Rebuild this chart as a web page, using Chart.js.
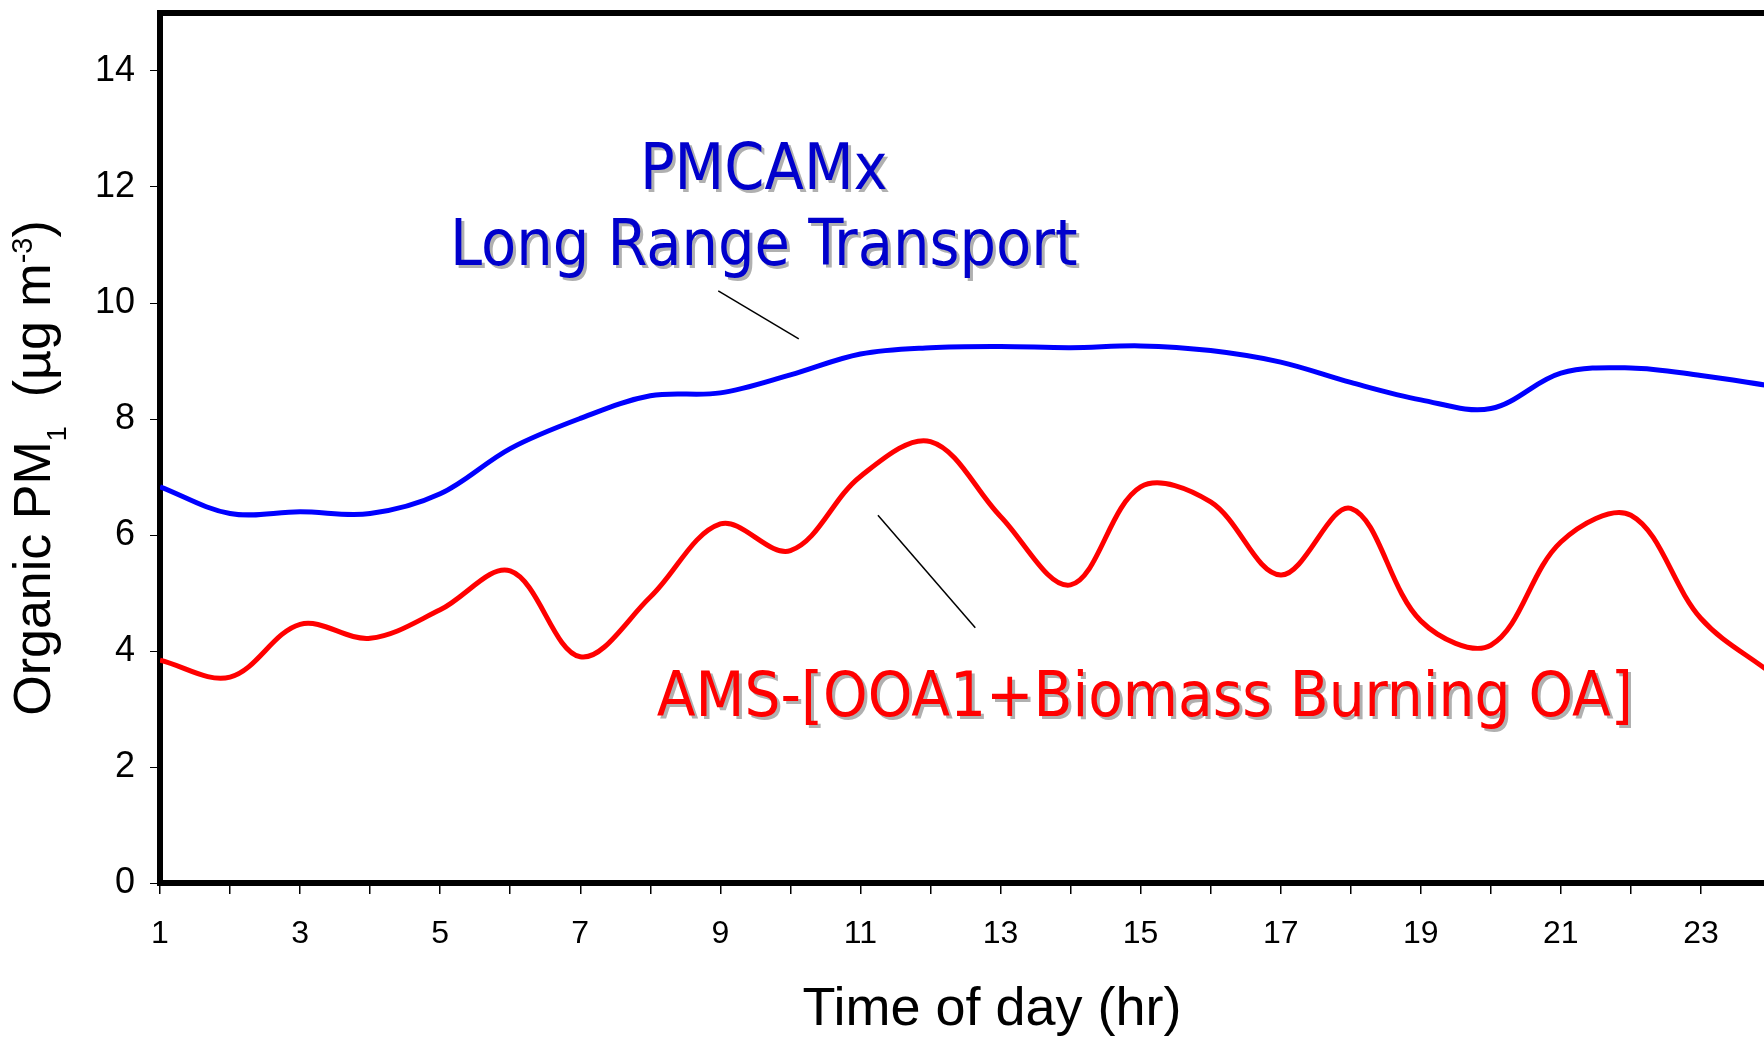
<!DOCTYPE html>
<html>
<head>
<meta charset="utf-8">
<title>Organic PM1 diurnal profile</title>
<script src="https://cdn.jsdelivr.net/npm/chart.js@4.4.1/dist/chart.umd.min.js"></script>
<style>
    html, body { margin: 0; padding: 0; overflow: hidden; background: #fff; }
    #wrap { position: relative; width: 1776px; height: 1037px; }
</style>
</head>
<body>
<div id="wrap"><canvas id="pmChart" width="1776" height="1037"></canvas></div>
<script>
// ===============================
// DATA
// ===============================
const hours = [1, 2, 3, 4, 5, 6, 7, 8, 9, 10, 11, 12, 13, 14, 15, 16, 17, 18, 19, 20, 21, 22, 23, 24];

// PMCAMx long range transport (ug m-3)
const pmcamx = [6.83, 6.37, 6.40, 6.37, 6.71, 7.49, 8.01, 8.40, 8.45, 8.76, 9.12, 9.23,
                9.25, 9.23, 9.26, 9.18, 8.98, 8.63, 8.33, 8.18, 8.79, 8.88, 8.75, 8.57];

// AMS - [OOA1 + biomass burning OA] (ug m-3)
const amsOA = [3.84, 3.55, 4.46, 4.22, 4.71, 5.38, 3.90, 4.93, 6.19, 5.73, 7.01, 7.61,
               6.32, 5.14, 6.83, 6.57, 5.31, 6.46, 4.52, 4.10, 5.88, 6.34, 4.56, 3.62];

const xTickLabels = [1, 3, 5, 7, 9, 11, 13, 15, 17, 19, 21, 23];
const yTickLabels = [0, 2, 4, 6, 8, 10, 12, 14];

// labels on the plot, placed in data units (hour, value)
const notes = [
    { text: "PMCAMx", x: 9.62, y: 11.97, color: "#0000cc", size: 64 },
    { text: "Long Range Transport", x: 9.62, y: 10.66, color: "#0000cc", size: 64 },
    { text: "AMS-[OOA1+Biomass Burning OA]", x: 15.06, y: 2.88, color: "#ff0000", size: 63 }
];
const leaders = [
    { x1: 8.97, y1: 10.21, x2: 10.12, y2: 9.38 },
    { x1: 11.25, y1: 6.34, x2: 12.64, y2: 4.40 }
];

const TICK_FONT = "'Liberation Sans', Arial, sans-serif";
const NOTE_FONT = "'DejaVu Sans Condensed', 'DejaVu Sans', sans-serif";

// Utilities: pair hours with values
function toPoints(values) {
    return hours.map((h, i) => ({ x: h, y: values[i] }));
}

// Extra drawing: top frame, axis titles, notes
const decorations = {
    id: "decorations",
    afterDraw(chart) {
        const { ctx, chartArea, scales } = chart;
        const xs = scales.x, ys = scales.y;

        ctx.save();
        // top frame line
        ctx.strokeStyle = "#000";
        ctx.lineWidth = 6;
        ctx.beginPath();
        ctx.moveTo(chartArea.left - 3, chartArea.top);
        ctx.lineTo(chartArea.right + 3, chartArea.top);
        ctx.stroke();

        // x title
        ctx.fillStyle = "#000";
        ctx.font = "54px " + TICK_FONT;
        ctx.textAlign = "center";
        ctx.textBaseline = "alphabetic";
        ctx.fillText("Time of day (hr)", 992, 1025);

        // y title with sub / superscripts
        const parts = [
            { t: "Organic PM", size: 52, shift: 0 },
            { t: "1", size: 27, shift: 16 },
            { t: "  (\u00b5g m", size: 52, shift: 0 },
            { t: "-3", size: 29, shift: -18 },
            { t: ")", size: 52, shift: 0 }
        ];
        let total = 0;
        parts.forEach(p => {
            ctx.font = p.size + "px " + TICK_FONT;
            p.w = ctx.measureText(p.t).width;
            total += p.w;
        });
        ctx.translate(50, 468);
        ctx.rotate(-Math.PI / 2);
        ctx.textAlign = "left";
        let pos = -total / 2;
        parts.forEach(p => {
            ctx.font = p.size + "px " + TICK_FONT;
            ctx.fillText(p.t, pos, p.shift);
            pos += p.w;
        });
        ctx.restore();

        // leader lines
        ctx.save();
        ctx.strokeStyle = "#000";
        ctx.lineWidth = 1.5;
        leaders.forEach(l => {
            ctx.beginPath();
            ctx.moveTo(xs.getPixelForValue(l.x1), ys.getPixelForValue(l.y1));
            ctx.lineTo(xs.getPixelForValue(l.x2), ys.getPixelForValue(l.y2));
            ctx.stroke();
        });

        // notes with grey drop shadow
        ctx.textAlign = "center";
        ctx.textBaseline = "alphabetic";
        ctx.shadowColor = "#b0b0b0";
        ctx.shadowOffsetX = 3;
        ctx.shadowOffsetY = 3;
        ctx.shadowBlur = 0;
        notes.forEach(n => {
            ctx.font = n.size + "px " + NOTE_FONT;
            ctx.fillStyle = n.color;
            ctx.fillText(n.text, xs.getPixelForValue(n.x), ys.getPixelForValue(n.y));
        });
        ctx.restore();
    }
};

const ctx = document.getElementById("pmChart").getContext("2d");
new Chart(ctx, {
    type: "line",
    data: {
        datasets: [
            {
                label: "PMCAMx Long Range Transport",
                data: toPoints(pmcamx),
                borderColor: "#0000ff",
                borderWidth: 5,
                pointRadius: 0,
                tension: 0.35,
                fill: false
            },
            {
                label: "AMS-[OOA1+Biomass Burning OA]",
                data: toPoints(amsOA),
                borderColor: "#ff0000",
                borderWidth: 5,
                pointRadius: 0,
                tension: 0.35,
                fill: false
            }
        ]
    },
    options: {
        responsive: false,
        animation: false,
        devicePixelRatio: 1,
        layout: { padding: { top: 13, right: 5, left: 0, bottom: 0 } },
        plugins: {
            legend: { display: false },
            tooltip: { enabled: false }
        },
        scales: {
            x: {
                type: "linear",
                min: 1,
                max: 24,
                afterFit: s => {
                    s.height = 154;
                    s.paddingLeft = 0;
                    s.paddingRight = 0;
                },
                border: { display: true, color: "#000", width: 6 },
                grid: { drawOnChartArea: false, drawTicks: true, tickLength: 11, color: "#000", lineWidth: 1.5 },
                ticks: {
                    stepSize: 1,
                    autoSkip: false,
                    maxRotation: 0,
                    padding: 21,
                    color: "#000",
                    font: { family: TICK_FONT, size: 32 },
                    callback: v => xTickLabels.includes(v) ? String(v) : ""
                }
            },
            y: {
                min: 0,
                max: 15,
                afterFit: s => {
                    s.width = 160;
                    s.paddingTop = 0;
                    s.paddingBottom = 0;
                },
                border: { display: true, color: "#000", width: 6 },
                grid: { drawOnChartArea: false, drawTicks: true, tickLength: 10, color: "#000", lineWidth: 1 },
                ticks: {
                    stepSize: 2,
                    includeBounds: false,
                    padding: 15,
                    color: "#000",
                    font: { family: TICK_FONT, size: 36 },
                    callback: v => yTickLabels.includes(v) ? String(v) : ""
                }
            }
        }
    },
    plugins: [decorations]
});
</script>
</body>
</html>
